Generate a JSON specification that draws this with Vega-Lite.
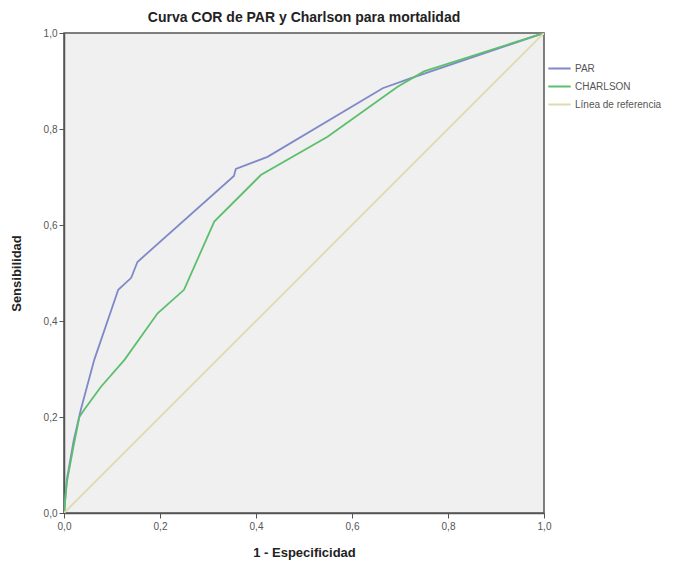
{
  "$schema": "https://vega.github.io/schema/vega-lite/v6.json",
  "width": 480,
  "height": 480,
  "autosize": {"type": "none"},
  "padding": {"left": 64, "top": 33, "right": 141, "bottom": 53},
  "background": "white",
  "config": {
    "font": "Liberation Sans",
    "view": {"fill": "#f0f0f0", "stroke": "#555555", "strokeWidth": 1.5},
    "axis": {
      "grid": false,
      "labelFlush": false,
      "domainColor": "#555555",
      "domainWidth": 1.5,
      "tickColor": "#555555",
      "tickSize": 5,
      "labelFont": "Liberation Sans",
      "labelFontSize": 10,
      "labelColor": "#555555",
      "titleFont": "Liberation Sans",
      "titleFontSize": 13,
      "titleFontWeight": "bold",
      "titleColor": "#222222"
    }
  },
  "title": {
    "text": "Curva COR de PAR y Charlson para mortalidad",
    "font": "Liberation Sans",
    "fontSize": 14,
    "fontWeight": "bold",
    "color": "#222222",
    "anchor": "middle",
    "offset": 3
  },
  "data": {
    "values": [
      {"serie": "PAR", "x": 0.0, "y": 0.0},
      {"serie": "PAR", "x": 0.006, "y": 0.07},
      {"serie": "PAR", "x": 0.02, "y": 0.15},
      {"serie": "PAR", "x": 0.035, "y": 0.215},
      {"serie": "PAR", "x": 0.063, "y": 0.319},
      {"serie": "PAR", "x": 0.113, "y": 0.465},
      {"serie": "PAR", "x": 0.14, "y": 0.49},
      {"serie": "PAR", "x": 0.153, "y": 0.523},
      {"serie": "PAR", "x": 0.354, "y": 0.702},
      {"serie": "PAR", "x": 0.358, "y": 0.717},
      {"serie": "PAR", "x": 0.424, "y": 0.742},
      {"serie": "PAR", "x": 0.664, "y": 0.885},
      {"serie": "PAR", "x": 0.72, "y": 0.905},
      {"serie": "PAR", "x": 1.0, "y": 1.0},
      {"serie": "CHARLSON", "x": 0.0, "y": 0.0},
      {"serie": "CHARLSON", "x": 0.006, "y": 0.065},
      {"serie": "CHARLSON", "x": 0.02, "y": 0.14},
      {"serie": "CHARLSON", "x": 0.032, "y": 0.2},
      {"serie": "CHARLSON", "x": 0.042, "y": 0.215},
      {"serie": "CHARLSON", "x": 0.077, "y": 0.263},
      {"serie": "CHARLSON", "x": 0.126, "y": 0.319},
      {"serie": "CHARLSON", "x": 0.195, "y": 0.416},
      {"serie": "CHARLSON", "x": 0.25, "y": 0.465},
      {"serie": "CHARLSON", "x": 0.313, "y": 0.607},
      {"serie": "CHARLSON", "x": 0.41, "y": 0.704},
      {"serie": "CHARLSON", "x": 0.549, "y": 0.784},
      {"serie": "CHARLSON", "x": 0.695, "y": 0.888},
      {"serie": "CHARLSON", "x": 0.75, "y": 0.92},
      {"serie": "CHARLSON", "x": 1.0, "y": 1.0},
      {"serie": "Línea de referencia", "x": 0.0, "y": 0.0},
      {"serie": "Línea de referencia", "x": 1.0, "y": 1.0}
    ]
  },
  "mark": {"type": "line", "strokeWidth": 1.8, "clip": true},
  "encoding": {
    "x": {
      "field": "x",
      "type": "quantitative",
      "scale": {"domain": [0, 1], "nice": false, "zero": false},
      "axis": {
        "title": "1 - Especificidad",
        "values": [0, 0.2, 0.4, 0.6, 0.8, 1.0],
        "labelExpr": "replace(format(datum.value, '.1f'), '.', ',')",
        "labelPadding": 3,
        "titlePadding": 15
      }
    },
    "y": {
      "field": "y",
      "type": "quantitative",
      "scale": {"domain": [0, 1], "nice": false, "zero": false},
      "axis": {
        "title": "Sensibilidad",
        "values": [0, 0.2, 0.4, 0.6, 0.8, 1.0],
        "labelExpr": "replace(format(datum.value, '.1f'), '.', ',')",
        "labelPadding": 2,
        "titlePadding": 20
      }
    },
    "color": {
      "field": "serie",
      "type": "nominal",
      "scale": {
        "domain": ["PAR", "CHARLSON", "Línea de referencia"],
        "range": ["#7f89c8", "#5cbf6c", "#dcdcae"]
      },
      "legend": {
        "title": null,
        "orient": "none",
        "legendX": 483,
        "legendY": 23,
        "symbolType": "stroke",
        "symbolSize": 500,
        "symbolStrokeWidth": 2,
        "labelFont": "Liberation Sans",
        "labelFontSize": 10,
        "labelColor": "#555555",
        "rowPadding": -8,
        "labelOffset": 3
      }
    }
  }
}
